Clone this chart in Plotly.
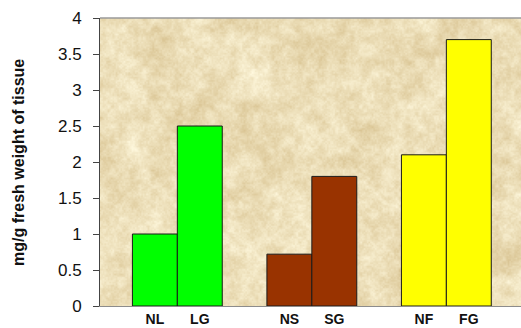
import base64
import struct
import zlib

import numpy as np
import plotly.graph_objects as go

# Tissue measurements (mg/g fresh weight), two bars per group
categories = ["NL", "LG", "NS", "SG", "NF", "FG"]
values = [1.0, 2.5, 0.72, 1.8, 2.1, 3.7]
group_index = [0, 0, 1, 1, 2, 2]
side = [-1, 1, -1, 1, -1, 1]
colors = ["#00FF00", "#00FF00", "#993300", "#993300", "#FFFF00", "#FFFF00"]

y_ticks = [0, 0.5, 1, 1.5, 2, 2.5, 3, 3.5, 4]
y_tick_text = ["0", "0.5", "1", "1.5", "2", "2.5", "3", "3.5", "4"]

BAR_W = 0.334
x_pos = [g + s * BAR_W / 2 for g, s in zip(group_index, side)]


def parchment_png(w, h):
    """Soft sandy paper texture, encoded as a PNG data URI."""
    yy, xx = np.mgrid[0:h, 0:w].astype(float)

    def hash_noise(cell):
        gy = np.floor(yy / cell)
        gx = np.floor(xx / cell)
        fy = yy / cell - gy
        fx = xx / cell - gx
        fx = fx * fx * (3 - 2 * fx)
        fy = fy * fy * (3 - 2 * fy)

        def h(a, b):
            v = np.sin(a * 12.9898 + b * 78.233 + cell * 3.1) * 43758.5453
            return v - np.floor(v)

        n00 = h(gx, gy)
        n10 = h(gx + 1, gy)
        n01 = h(gx, gy + 1)
        n11 = h(gx + 1, gy + 1)
        return (n00 * (1 - fx) + n10 * fx) * (1 - fy) + (n01 * (1 - fx) + n11 * fx) * fy

    n = (0.30 * hash_noise(30) + 0.30 * hash_noise(11) + 0.22 * hash_noise(4)
         + 0.18 * hash_noise(1.6))
    n = (n - n.mean()) / (n.std() + 1e-9)
    base = np.array([236, 222, 184], float)
    amp = np.array([5, 7, 10], float)
    img = base[None, None, :] + n[:, :, None] * amp[None, None, :]
    img = np.clip(img, 0, 255).astype(np.uint8)

    raw = b"".join(b"\x00" + img[r].tobytes() for r in range(h))

    def chunk(tag, data):
        c = struct.pack(">I", len(data)) + tag + data
        return c + struct.pack(">I", zlib.crc32(tag + data) & 0xFFFFFFFF)

    png = (b"\x89PNG\r\n\x1a\n"
           + chunk(b"IHDR", struct.pack(">IIBBBBB", w, h, 8, 2, 0, 0, 0))
           + chunk(b"IDAT", zlib.compress(raw, 9))
           + chunk(b"IEND", b""))
    return "data:image/png;base64," + base64.b64encode(png).decode()


fig = go.Figure(
    go.Bar(
        x=x_pos,
        y=values,
        width=BAR_W,
        marker=dict(color=colors, line=dict(color="#1a1a1a", width=1)),
        hoverinfo="skip",
    )
)

fig.update_layout(
    width=521,
    height=328,
    margin=dict(l=100, r=0, t=18, b=22),
    paper_bgcolor="white",
    plot_bgcolor="#EADBB8",
    showlegend=False,
    font=dict(family="Liberation Sans, Arial, sans-serif", color="#111111"),
    images=[dict(
        source=parchment_png(421, 288),
        xref="paper", yref="paper", x=0, y=1, sizex=1, sizey=1,
        sizing="stretch", layer="below",
    )],
    annotations=[dict(
        text="<b>mg/g fresh weight of tissue</b>",
        xref="paper", yref="paper", x=-0.195, y=0.5,
        xanchor="center", yanchor="middle", textangle=-90,
        showarrow=False, font=dict(size=16, color="#111111"),
    )],
)

fig.update_xaxes(
    range=[-0.575, 2.555],
    tickvals=x_pos,
    ticktext=[f"<b>{c}</b>" for c in categories],
    tickfont=dict(size=14),
    showgrid=False,
    zeroline=False,
    showline=True,
    linecolor="#8c8c8c",
    linewidth=1,
    ticks="",
    mirror=False,
)

fig.update_yaxes(
    range=[0, 4],
    tickvals=y_ticks,
    ticktext=y_tick_text,
    tickfont=dict(size=17),
    showgrid=False,
    zeroline=False,
    showline=True,
    linecolor="#444444",
    linewidth=1,
    ticks="outside",
    ticklen=6,
    tickcolor="#444444",
    ticklabelstandoff=8,
)

# thin grey frame along the top edge of the plotting area
fig.add_shape(type="line", xref="paper", yref="paper", x0=0, x1=1, y0=1, y1=1,
              line=dict(color="#9a9a9a", width=1.5))

fig.write_html("out.html")
